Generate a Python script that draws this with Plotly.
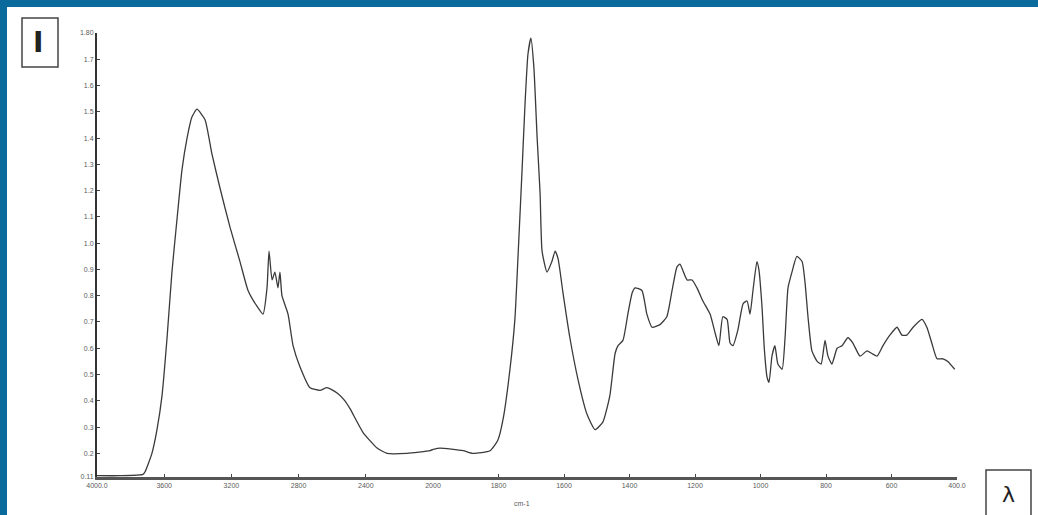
import plotly.graph_objects as go

# ---- data ----
wn_high = [4000, 3863, 3726, 3714, 3673, 3643, 3613, 3583, 3554, 3524, 3494, 3464, 3435, 3405,
           3357, 3316, 3268, 3208, 3149, 3101, 3048, 3012, 2988, 2976, 2958, 2941, 2923, 2911,
           2899, 2863, 2833, 2792, 2732, 2673, 2631, 2571, 2524, 2494, 2417, 2333, 2274, 2155, 2018, 2000]
abs_high = [0.115, 0.115, 0.12, 0.13, 0.20, 0.29, 0.42, 0.64, 0.89, 1.09, 1.28, 1.40, 1.48, 1.51,
            1.47, 1.34, 1.21, 1.06, 0.93, 0.82, 0.76, 0.73, 0.83, 0.97, 0.86, 0.89, 0.83, 0.89,
            0.80, 0.73, 0.61, 0.53, 0.45, 0.44, 0.45, 0.43, 0.40, 0.37, 0.28, 0.22, 0.20, 0.20, 0.21, 0.215]

wn_low = [2000, 1979, 1908, 1878, 1826, 1802, 1786, 1765, 1750, 1740, 1728, 1719, 1710, 1701,
          1692, 1682, 1673, 1667, 1652, 1637, 1627, 1618, 1603, 1582, 1557, 1530, 1505, 1481,
          1460, 1444, 1435, 1420, 1405, 1392, 1383, 1362, 1347, 1331, 1307, 1286, 1270, 1255,
          1246, 1224, 1209, 1194, 1176, 1154, 1139, 1127, 1115, 1102, 1093, 1084, 1069, 1053,
          1041, 1032, 1023, 1011, 1005, 995, 989, 980, 974, 965, 956, 947, 934, 925, 916, 904,
          889, 873, 864, 855, 843, 827, 815, 803, 794, 782, 766, 751, 733, 718, 696, 675, 660,
          644, 626, 605, 583, 568, 553, 534, 507, 492, 477, 461, 443, 428, 407]
abs_low = [0.215, 0.22, 0.21, 0.20, 0.21, 0.25, 0.33, 0.52, 0.71, 0.96, 1.28, 1.53, 1.72, 1.78,
           1.67, 1.40, 1.19, 0.97, 0.89, 0.93, 0.97, 0.94, 0.81, 0.64, 0.48, 0.35, 0.29, 0.32,
           0.42, 0.58, 0.61, 0.63, 0.73, 0.81, 0.83, 0.82, 0.73, 0.68, 0.69, 0.72, 0.82, 0.91,
           0.92, 0.86, 0.86, 0.83, 0.78, 0.73, 0.66, 0.61, 0.72, 0.71, 0.62, 0.61, 0.67, 0.77,
           0.78, 0.73, 0.82, 0.93, 0.90, 0.75, 0.61, 0.49, 0.47, 0.57, 0.61, 0.54, 0.52, 0.64, 0.83, 0.89,
           0.95, 0.93, 0.85, 0.72, 0.59, 0.55, 0.54, 0.63, 0.57, 0.54, 0.60, 0.61, 0.64, 0.62, 0.57, 0.59, 0.58,
           0.57, 0.61, 0.65, 0.68, 0.65, 0.65, 0.68, 0.71, 0.68, 0.62, 0.56, 0.56, 0.55, 0.52]

x_ticks_high = [4000, 3600, 3200, 2800, 2400, 2000]
x_text_high = ["4000.0", "3600", "3200", "2800", "2400", "2000"]
x_ticks_low = [1800, 1600, 1400, 1200, 1000, 800, 600, 400]
x_text_low = ["1800", "1600", "1400", "1200", "1000", "800", "600", "400.0"]
y_ticks = [0.11, 0.2, 0.3, 0.4, 0.5, 0.6, 0.7, 0.8, 0.9, 1.0, 1.1, 1.2, 1.3, 1.4, 1.5, 1.6, 1.7, 1.80]
y_text = ["0.11", "0.2", "0.3", "0.4", "0.5", "0.6", "0.7", "0.8", "0.9", "1.0",
          "1.1", "1.2", "1.3", "1.4", "1.5", "1.6", "1.7", "1.80"]

# ---- figure ----
W, H = 1038, 515
L, R, T, B = 97, 81, 33, 38
pw, ph = W - L - R, H - T - B
split = (433 - L) / pw

def px(x):
    return (x - L) / pw

def py(y):
    return (H - B - y) / ph

line = dict(color="#3a3a3a", width=1.3, shape="spline", smoothing=0.5)
fig = go.Figure()
fig.add_trace(go.Scatter(x=wn_high, y=abs_high, mode="lines", line=line, xaxis="x", yaxis="y",
                         showlegend=False, hoverinfo="skip"))
fig.add_trace(go.Scatter(x=wn_low, y=abs_low, mode="lines", line=line, xaxis="x2", yaxis="y",
                         showlegend=False, hoverinfo="skip"))

tickfont = dict(family="Liberation Sans, Arial, sans-serif", size=7, color="#5a5a5a")
axcommon = dict(showgrid=False, zeroline=False, showline=True, linecolor="#555555", linewidth=2.5,
                ticks="inside", ticklen=3, tickcolor="#444444", tickfont=tickfont)

fig.update_layout(
    width=W, height=H,
    margin=dict(l=L, r=R, t=T, b=B),
    paper_bgcolor="white", plot_bgcolor="white",
    xaxis=dict(domain=[0, split], range=[4000, 2000], tickvals=x_ticks_high, ticktext=x_text_high,
               anchor="y", **axcommon),
    xaxis2=dict(domain=[split, 1], range=[2000, 400], tickvals=x_ticks_low, ticktext=x_text_low,
                anchor="y", **axcommon),
    yaxis=dict(range=[0.11, 1.80], tickvals=y_ticks, ticktext=y_text,
               **{**axcommon, "linecolor": "#333333", "linewidth": 2}),
    shapes=[
        dict(type="rect", xref="paper", yref="paper", x0=px(0), x1=px(W), y0=py(0), y1=py(7),
             fillcolor="#0b6a9c", line=dict(width=0), layer="above"),
        dict(type="rect", xref="paper", yref="paper", x0=px(0), x1=px(7), y0=py(0), y1=py(H),
             fillcolor="#0b6a9c", line=dict(width=0), layer="above"),
        dict(type="rect", xref="paper", yref="paper", x0=px(22), x1=px(58), y0=py(18), y1=py(67),
             fillcolor="white", line=dict(color="#444444", width=1.5)),
        dict(type="rect", xref="paper", yref="paper", x0=px(986), x1=px(1031), y0=py(470), y1=py(518),
             fillcolor="white", line=dict(color="#444444", width=1.5)),
    ],
    annotations=[
        dict(x=px(38), y=py(42), xref="paper", yref="paper", text="<b>I</b>", showarrow=False,
             xanchor="center", yanchor="middle",
             font=dict(family="DejaVu Sans, sans-serif", size=28, color="#222222")),
        dict(x=px(1008), y=py(494), xref="paper", yref="paper", text="λ", showarrow=False,
             xanchor="center", yanchor="middle",
             font=dict(family="DejaVu Sans, sans-serif", size=22, color="#222222")),
        dict(x=px(522), y=py(503), xref="paper", yref="paper", text="cm-1", showarrow=False,
             xanchor="center", yanchor="middle", font=tickfont),
    ],
)

fig.write_html("out.html", config={"displayModeBar": False},
               post_script="document.body.style.margin='0';")
